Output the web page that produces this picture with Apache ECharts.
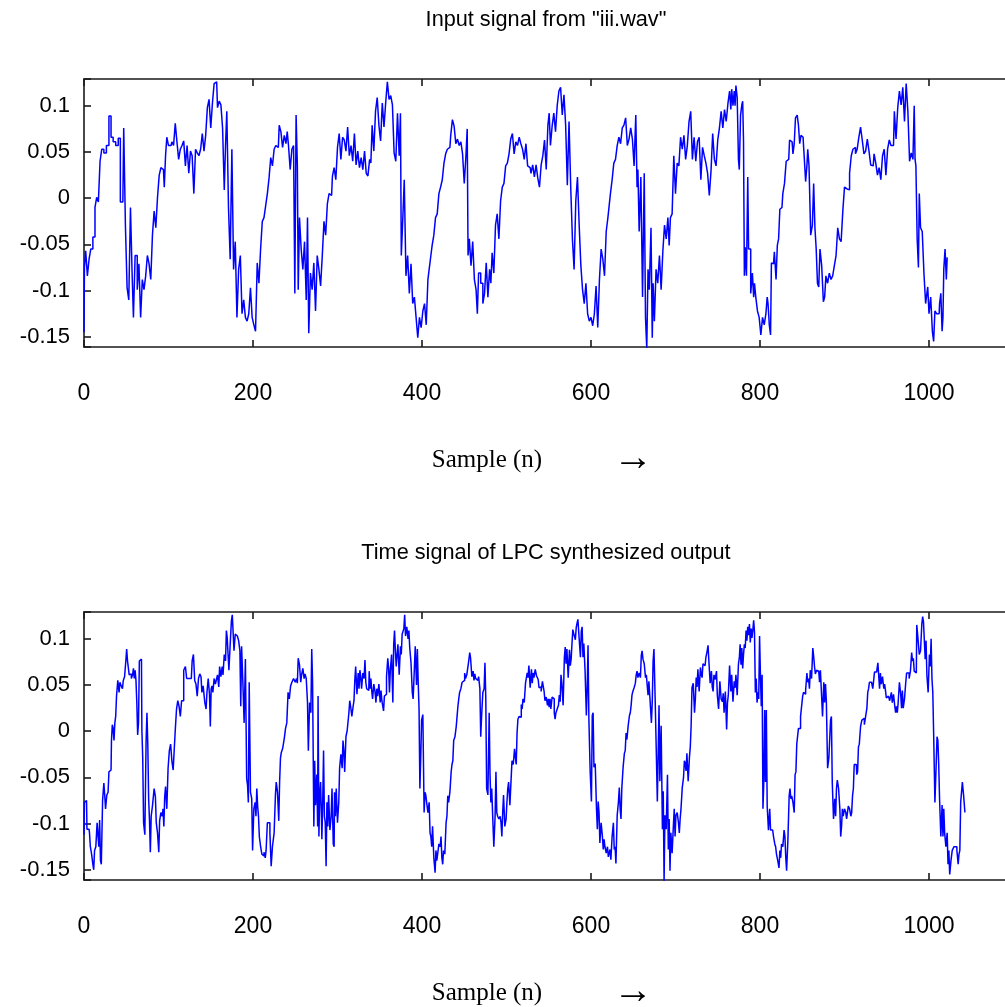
<!DOCTYPE html>
<html>
<head>
<meta charset="utf-8">
<title>LPC signals</title>
<script src="https://cdn.jsdelivr.net/npm/echarts@6/dist/echarts.min.js"></script>
<style>
html, body { margin: 0; padding: 0; background: #fff; }
#main { width: 1005px; height: 1007px; }
</style>
</head>
<body>
<div id="main"></div>
<script>
// input signal from iii.wav, [sample, amplitude]
var inputQ1 = [[0,-0.145],[1,-0.075],[3,-0.057],[5,-0.084],[7,-0.066],[9,-0.055],[12,-0.042],[14,-0.010],[16,0.001],[18,-0.004],[20,0.040],[22,0.053],[25,0.049],[28,0.057],[31,0.089],[33,0.066],[36,0.061],[39,0.057],[42,0.065],[44,-0.004],[46,-0.004],[48,0.076],[50,-0.029],[52,-0.097],[54,-0.110],[56,-0.010],[58,-0.084],[59,-0.129],[62,-0.062],[64,-0.099],[66,-0.071],[68,-0.129],[70,-0.088],[72,-0.099],[74,-0.084],[76,-0.062],[78,-0.071],[80,-0.088],[82,-0.040],[84,-0.014],[86,-0.032],[88,0.001],[90,0.025],[92,0.033],[94,0.031],[96,0.012],[97,0.046],[99,0.066],[101,0.057],[103,0.057],[105,0.061],[107,0.057],[109,0.081],[111,0.061],[113,0.042],[115,0.053],[117,0.057],[119,0.062],[121,0.035],[123,0.057],[125,0.027],[127,0.051],[129,0.046],[131,0.005],[133,0.053],[135,0.049],[137,0.046],[139,0.053],[141,0.070],[143,0.051],[145,0.068],[147,0.098],[149,0.107],[151,0.076],[153,0.103],[155,0.124],[157,0.126],[159,0.098],[161,0.105],[163,0.101],[165,0.076],[167,0.009],[168,0.057],[170,0.094],[172,-0.010],[174,-0.066],[176,0.053],[178,-0.077],[180,-0.047],[182,-0.129],[184,-0.077],[186,-0.062],[188,-0.125],[190,-0.110],[192,-0.129],[194,-0.133],[196,-0.125],[198,-0.097],[200,-0.129],[202,-0.137],[204,-0.144],[206,-0.070],[208,-0.092],[210,-0.055],[212,-0.025],[214,-0.021],[216,-0.008],[218,0.005],[220,0.022],[222,0.044],[224,0.035],[226,0.053],[228,0.057],[230,0.055],[232,0.079],[234,0.072],[236,0.055],[238,0.068],[240,0.059],[241,0.072],[243,0.057],[245,0.031],[247,0.053],[249,0.057],[250,-0.103]];
var inputQ2 = [[252,0.090],[253,0.035],[254,-0.099],[256,-0.021],[258,-0.055],[260,-0.077],[262,-0.047],[264,-0.110],[265,-0.021],[267,-0.146],[269,-0.081],[271,-0.099],[273,-0.070],[275,-0.122],[277,-0.062],[279,-0.077],[281,-0.095],[283,-0.062],[285,-0.025],[287,-0.040],[289,-0.006],[291,0.005],[293,0.003],[295,0.024],[297,0.033],[299,0.020],[301,0.055],[303,0.070],[305,0.042],[307,0.066],[309,0.063],[311,0.051],[313,0.077],[315,0.046],[317,0.057],[319,0.040],[321,0.070],[323,0.036],[325,0.051],[327,0.033],[329,0.044],[331,0.031],[333,0.051],[335,0.027],[337,0.024],[339,0.042],[340,0.038],[342,0.079],[344,0.051],[346,0.094],[348,0.109],[350,0.079],[352,0.062],[354,0.103],[356,0.077],[358,0.103],[360,0.126],[362,0.107],[364,0.111],[366,0.101],[368,0.049],[370,0.040],[372,0.092],[374,0.046],[375,0.092],[376,-0.062],[378,-0.029],[380,0.020],[382,-0.084],[384,-0.062],[386,-0.103],[388,-0.071],[390,-0.114],[392,-0.107],[394,-0.129],[396,-0.151],[398,-0.129],[400,-0.140],[402,-0.122],[404,-0.114],[406,-0.137],[408,-0.088],[410,-0.073],[411,-0.062],[413,-0.051],[415,-0.040],[417,-0.021],[419,-0.017],[421,0.005],[423,0.012],[425,0.020],[427,0.038],[429,0.048],[431,0.053],[433,0.055],[435,0.068],[437,0.085],[439,0.078],[441,0.059],[443,0.064],[445,0.057],[447,0.061],[449,0.048],[451,0.016],[453,0.046],[454,0.075],[455,-0.062],[457,-0.044],[459,-0.073],[461,-0.047],[463,-0.088],[465,-0.099],[466,-0.125],[468,-0.081],[471,-0.092],[473,-0.114],[475,-0.103],[477,-0.070],[479,-0.107],[481,-0.077],[482,-0.092],[484,-0.059],[486,-0.081],[488,-0.029],[490,-0.017],[492,-0.044],[494,-0.003],[496,0.012],[498,0.016],[500,0.035],[502,0.038],[504,0.048],[506,0.064],[508,0.070],[510,0.048]];
var inputQ3 = [[512,0.061],[514,0.057],[516,0.066],[518,0.059],[520,0.053],[522,0.042],[524,0.059],[526,0.035],[528,0.033],[530,0.027],[532,0.036],[534,0.023],[536,0.036],[538,0.022],[540,0.012],[542,0.036],[544,0.046],[546,0.063],[548,0.031],[550,0.079],[551,0.092],[553,0.057],[555,0.078],[557,0.092],[559,0.072],[561,0.100],[563,0.116],[565,0.120],[567,0.090],[569,0.112],[571,0.079],[573,0.014],[575,0.083],[577,0.012],[579,-0.044],[581,-0.077],[583,-0.003],[585,0.023],[587,-0.029],[589,-0.073],[591,-0.099],[593,-0.114],[595,-0.092],[597,-0.125],[599,-0.133],[601,-0.129],[603,-0.138],[605,-0.125],[607,-0.095],[609,-0.140],[611,-0.088],[613,-0.055],[615,-0.066],[617,-0.084],[619,-0.036],[621,-0.021],[622,-0.008],[624,0.005],[626,0.020],[628,0.038],[630,0.042],[632,0.057],[634,0.066],[636,0.059],[638,0.076],[640,0.079],[642,0.087],[644,0.057],[646,0.064],[648,0.076],[650,0.064],[652,0.035],[654,0.090],[655,0.012],[656,0.031],[658,-0.036],[660,0.023],[662,-0.107],[664,0.027],[665,-0.129],[667,-0.163],[668,-0.077],[670,-0.099],[672,-0.032],[673,-0.151],[674,-0.092],[676,-0.133],[678,-0.077],[680,-0.092],[682,-0.062],[684,-0.099],[686,-0.058],[688,-0.029],[690,-0.044],[692,-0.021],[693,-0.051],[695,-0.021],[697,-0.017],[699,0.046],[701,0.005],[703,0.038],[705,0.035],[707,0.066],[709,0.053],[711,0.068],[713,0.042],[715,0.057],[717,0.083],[719,0.094],[721,0.042],[723,0.066],[725,0.040],[727,0.061],[729,0.066],[731,0.020],[733,0.055],[735,0.046],[737,0.038],[739,0.027],[741,0.003],[743,0.029],[745,0.070],[747,0.042],[749,0.035],[751,0.063],[753,0.076],[755,0.094],[757,0.076],[759,0.096],[761,0.083],[763,0.102]];
var inputQ4 = [[765,0.116],[766,0.096],[767,0.118],[769,0.100],[770,0.116],[771,0.100],[772,0.122],[774,0.109],[775,0.042],[776,0.031],[778,0.090],[779,0.101],[780,0.105],[781,0.061],[782,-0.084],[783,-0.053],[785,-0.084],[786,0.023],[787,-0.055],[788,-0.055],[790,-0.103],[792,-0.081],[793,-0.107],[794,-0.092],[796,-0.107],[798,-0.122],[800,-0.129],[802,-0.148],[804,-0.129],[806,-0.137],[808,-0.125],[809,-0.107],[810,-0.114],[812,-0.137],[813,-0.148],[814,-0.070],[816,-0.071],[818,-0.058],[820,-0.088],[821,-0.051],[823,-0.044],[824,-0.012],[826,-0.010],[828,0.005],[830,0.016],[832,0.040],[834,0.042],[836,0.063],[838,0.061],[840,0.048],[841,0.059],[843,0.087],[845,0.090],[846,0.079],[848,0.059],[849,0.068],[851,0.066],[852,0.057],[853,0.042],[855,0.018],[856,0.035],[857,0.053],[859,0.035],[861,-0.040],[863,-0.029],[864,0.016],[866,-0.032],[867,-0.055],[869,-0.092],[870,-0.096],[872,-0.055],[874,-0.073],[876,-0.112],[877,-0.107],[879,-0.084],[881,-0.092],[883,-0.081],[885,-0.088],[887,-0.084],[889,-0.073],[891,-0.062],[893,-0.032],[895,-0.044],[897,-0.047],[899,-0.014],[901,0.012],[903,0.010],[905,0.009],[907,0.027],[909,0.046],[911,0.053],[912,0.055],[914,0.048],[916,0.053],[918,0.066],[920,0.077],[922,0.063],[924,0.048],[926,0.051],[928,0.064],[930,0.051],[932,0.036],[934,0.035],[936,0.048],[938,0.038],[940,0.025],[942,0.033],[944,0.020],[946,0.046],[948,0.053],[950,0.025],[952,0.053],[954,0.063],[956,0.057],[958,0.057],[960,0.094],[962,0.064],[964,0.098],[966,0.116],[968,0.101],[970,0.120],[972,0.083],[974,0.124],[976,0.094],[978,0.040],[980,0.049],[982,0.042],[983,0.100],[984,0.042],[985,0.035],[987,-0.044],[988,-0.075],[989,0.005],[991,-0.032],[993,-0.036],[995,-0.081],[997,-0.114],[998,-0.103],[999,-0.096],[1001,-0.125],[1003,-0.107],[1005,-0.144],[1006,-0.155],[1008,-0.122],[1010,-0.125],[1012,-0.125],[1013,-0.114],[1015,-0.103],[1016,-0.144],[1017,-0.129],[1018,-0.077],[1020,-0.055],[1021,-0.088],[1022,-0.064]];

// LPC synthesized output, [sample, amplitude]
var outputQ1 = [[0,-0.112],[1,-0.077],[3,-0.075],[4,-0.106],[6,-0.106],[7,-0.110],[8,-0.125],[10,-0.133],[11,-0.144],[12,-0.150],[13,-0.129],[15,-0.125],[16,-0.099],[17,-0.097],[18,-0.125],[19,-0.096],[20,-0.140],[21,-0.144],[23,-0.075],[24,-0.056],[25,-0.069],[26,-0.084],[28,-0.069],[29,-0.066],[30,-0.044],[32,-0.042],[33,-0.010],[34,0.007],[35,0.003],[36,-0.010],[37,0.009],[38,0.016],[39,0.038],[41,0.055],[42,0.042],[43,0.053],[45,0.049],[46,0.046],[47,0.055],[49,0.059],[50,0.076],[51,0.089],[52,0.076],[53,0.077],[54,0.061],[55,0.062],[57,0.057],[58,0.061],[59,0.068],[60,0.057],[61,0.066],[62,0.055],[63,0.031],[64,-0.004],[65,0.009],[66,0.076],[68,0.078],[69,0.001],[70,-0.029],[71,-0.099],[73,-0.112],[74,-0.010],[75,0.020],[76,-0.014],[77,-0.073],[78,-0.096],[79,-0.131],[80,-0.092],[82,-0.081],[84,-0.062],[85,-0.071],[86,-0.099],[88,-0.110],[89,-0.131],[90,-0.097],[92,-0.088],[93,-0.092],[94,-0.084],[95,-0.103],[96,-0.071],[97,-0.060],[99,-0.084],[100,-0.040],[102,-0.021],[103,-0.014],[105,-0.032],[106,-0.042],[107,-0.025],[109,0.001],[110,0.024],[112,0.033],[113,0.027],[115,0.016],[116,0.033],[117,0.033],[119,0.066],[121,0.070],[122,0.057],[123,0.057],[125,0.055],[127,0.057],[129,0.076],[130,0.083],[132,0.055],[133,0.051],[135,0.038],[136,0.057],[138,0.062],[139,0.059],[140,0.042],[142,0.049],[144,0.031],[145,0.024],[146,0.042],[148,0.057],[149,0.040],[150,0.005],[151,0.046],[152,0.049],[153,0.042],[155,0.057],[156,0.051],[157,0.055],[159,0.061],[160,0.048],[161,0.070],[163,0.059],[164,0.070],[165,0.061],[167,0.083],[168,0.076],[169,0.109],[170,0.101],[171,0.083],[172,0.066],[174,0.094],[175,0.120],[176,0.126],[177,0.124],[178,0.087],[180,0.105],[181,0.103],[182,0.101],[184,0.098],[185,0.087],[186,0.027],[187,0.092],[189,0.053],[190,0.009],[192,0.078],[193,-0.051],[194,-0.058],[195,-0.077],[196,0.053],[198,-0.066],[199,-0.073],[200,-0.129],[202,-0.084],[203,-0.077],[204,-0.092],[205,-0.062],[206,-0.081],[207,-0.092],[208,-0.114],[210,-0.125],[211,-0.133],[212,-0.135],[214,-0.131],[215,-0.137],[216,-0.129],[218,-0.099],[219,-0.099],[221,-0.110],[222,-0.146],[224,-0.125],[226,-0.110],[227,-0.070],[228,-0.055],[230,-0.066],[231,-0.097],[232,-0.055],[233,-0.029],[234,-0.023],[236,-0.019],[238,-0.008],[239,0.003],[241,0.009],[242,0.042],[244,0.035],[245,0.049],[247,0.053],[249,0.057],[251,0.053]];
var outputQ2 = [[252,0.057],[253,0.052],[254,0.079],[256,0.072],[257,0.053],[258,0.061],[260,0.068],[261,0.057],[262,0.062],[264,0.057],[265,0.031],[266,-0.021],[268,0.031],[269,0.020],[270,0.089],[271,0.053],[273,-0.103],[273,-0.032],[275,-0.080],[276,-0.047],[277,-0.103],[277,0.038],[279,-0.114],[279,-0.069],[281,-0.055],[281,-0.092],[282,-0.117],[283,-0.077],[284,-0.021],[285,-0.092],[286,-0.099],[287,-0.146],[288,-0.077],[289,-0.103],[290,-0.069],[292,-0.107],[293,-0.092],[294,-0.062],[296,-0.122],[296,-0.125],[297,-0.066],[298,-0.092],[299,-0.062],[301,-0.099],[302,-0.077],[303,-0.040],[305,-0.025],[306,-0.040],[307,-0.010],[308,-0.021],[309,-0.044],[311,-0.006],[312,0.001],[313,0.000],[314,0.020],[315,0.033],[316,0.027],[318,0.016],[319,0.027],[320,0.033],[321,0.055],[322,0.070],[324,0.040],[325,0.063],[326,0.046],[327,0.066],[328,0.059],[329,0.046],[331,0.063],[332,0.057],[333,0.077],[334,0.053],[335,0.046],[337,0.044],[338,0.065],[339,0.046],[340,0.057],[341,0.044],[342,0.035],[344,0.051],[345,0.042],[346,0.031],[347,0.046],[348,0.038],[350,0.051],[351,0.031],[352,0.044],[353,0.033],[354,0.031],[355,0.022],[356,0.038],[357,0.040],[359,0.059],[360,0.079],[361,0.068],[362,0.042],[363,0.066],[365,0.083],[366,0.031],[367,0.094],[368,0.109],[369,0.087],[370,0.070],[371,0.083],[372,0.094],[374,0.061],[375,0.092],[376,0.083],[377,0.105],[378,0.103],[379,0.111],[380,0.126],[381,0.103],[383,0.113],[384,0.100],[385,0.109],[386,0.090],[388,0.074],[389,0.042],[390,0.035],[391,0.057],[393,0.092],[394,0.050],[395,0.089],[396,0.053],[397,0.024],[398,-0.062],[399,-0.029],[400,0.012],[402,0.018],[403,-0.088],[404,-0.066],[405,-0.069],[406,-0.077],[408,-0.088],[409,-0.077],[410,-0.110],[411,-0.114],[412,-0.125],[413,-0.103],[415,-0.137],[416,-0.153],[417,-0.129],[418,-0.140],[419,-0.133],[421,-0.122],[422,-0.125],[423,-0.114],[424,-0.137],[425,-0.144],[426,-0.129],[428,-0.133],[429,-0.099],[430,-0.092],[431,-0.070],[432,-0.077],[434,-0.066],[435,-0.044],[436,-0.036],[437,-0.032],[438,-0.010],[440,-0.006],[441,0.005],[442,0.016],[443,0.027],[444,0.035],[445,0.042],[447,0.046],[448,0.053],[449,0.051],[450,0.055],[451,0.063],[452,0.057],[454,0.061],[456,0.074],[457,0.085],[458,0.079],[460,0.059],[461,0.065],[462,0.055],[463,0.062],[464,0.057],[466,0.055],[468,0.059],[469,0.046],[470,-0.006],[471,0.016],[473,0.042],[474,0.046],[475,0.074],[476,0.035],[477,-0.062],[479,-0.069],[480,0.020],[481,-0.047],[482,-0.077],[483,-0.062],[484,-0.088],[486,-0.125],[487,-0.092],[488,-0.044],[489,-0.088],[490,-0.092],[492,-0.095],[493,-0.092],[494,-0.099],[495,-0.114],[496,-0.088],[497,-0.069],[499,-0.103],[500,-0.095],[501,-0.077],[502,-0.062],[503,-0.055]];
var outputQ3 = [[505,-0.080],[506,-0.051],[507,-0.032],[509,-0.036],[510,-0.019],[511,-0.028],[512,-0.036],[513,-0.002],[514,0.013],[516,0.016],[517,0.015],[518,0.029],[519,0.024],[520,0.035],[522,0.031],[523,0.052],[524,0.054],[525,0.063],[526,0.058],[527,0.071],[529,0.047],[530,0.067],[531,0.052],[532,0.063],[533,0.058],[535,0.067],[536,0.060],[537,0.061],[538,0.056],[539,0.047],[540,0.048],[542,0.043],[543,0.054],[544,0.052],[545,0.043],[546,0.033],[548,0.037],[549,0.028],[550,0.035],[551,0.026],[552,0.035],[553,0.024],[555,0.037],[556,0.035],[557,0.020],[558,0.013],[559,0.020],[561,0.024],[562,0.028],[563,0.039],[564,0.032],[565,0.061],[566,0.052],[568,0.028],[569,0.080],[570,0.091],[571,0.073],[572,0.089],[574,0.058],[575,0.088],[576,0.071],[577,0.078],[578,0.095],[579,0.110],[581,0.104],[582,0.099],[583,0.112],[584,0.117],[585,0.121],[587,0.100],[588,0.080],[589,0.108],[590,0.113],[591,0.080],[592,0.095],[594,0.065],[595,0.017],[596,0.047],[597,0.093],[598,0.013],[600,-0.043],[601,-0.076],[602,0.017],[603,0.020],[604,-0.039],[606,-0.035],[607,-0.084],[608,-0.106],[609,-0.076],[610,-0.088],[611,-0.121],[613,-0.099],[614,-0.114],[615,-0.128],[616,-0.117],[617,-0.125],[619,-0.132],[620,-0.125],[621,-0.136],[622,-0.132],[623,-0.128],[624,-0.139],[626,-0.114],[627,-0.099],[628,-0.128],[629,-0.125],[630,-0.143],[632,-0.091],[633,-0.076],[634,-0.061],[635,-0.084],[636,-0.095],[637,-0.061],[639,-0.039],[640,-0.024],[641,-0.021],[642,-0.002],[643,-0.009],[645,0.006],[646,0.017],[647,0.020],[648,0.028],[649,0.039],[650,0.043],[652,0.047],[653,0.052],[654,0.061],[655,0.065],[656,0.058],[658,0.063],[659,0.058],[660,0.082],[661,0.087],[662,0.078],[664,0.073],[665,0.058],[666,0.061],[667,0.063],[668,0.039],[669,0.054],[671,0.032],[672,0.009],[673,0.032],[674,0.076],[675,0.089],[677,0.032],[678,-0.032],[679,-0.076],[680,-0.024],[681,0.028],[682,-0.054],[684,0.006],[685,-0.106],[686,-0.065],[687,-0.163],[688,-0.091],[690,-0.106],[691,-0.047],[692,-0.128],[693,-0.095],[694,-0.151],[695,-0.110],[697,-0.132],[698,-0.102],[699,-0.084],[700,-0.114],[701,-0.091],[703,-0.088],[704,-0.099],[705,-0.110],[706,-0.095],[707,-0.084],[709,-0.061],[710,-0.050],[711,-0.032],[712,-0.035],[713,-0.043],[714,-0.024],[716,-0.054],[717,-0.028],[718,-0.017],[719,0.006],[720,0.047],[722,0.052],[723,0.020],[724,0.035],[725,0.058],[726,0.048],[727,0.067],[729,0.043],[730,0.069],[731,0.061],[732,0.058],[733,0.073],[735,0.071],[737,0.080],[738,0.087],[739,0.093],[740,0.076],[742,0.052],[743,0.065],[744,0.048],[745,0.043],[746,0.061],[748,0.056],[749,0.065],[750,0.039],[752,0.024],[753,0.054],[755,0.035],[756,0.032],[757,0.041],[758,0.020]];
var outputQ4 = [[760,0.043],[761,0.002],[762,0.031],[763,0.039],[765,0.071],[766,0.043],[767,0.061],[769,0.032],[770,0.054],[771,0.047],[772,0.061],[774,0.039],[775,0.073],[776,0.079],[777,0.094],[778,0.072],[779,0.090],[780,0.068],[781,0.083],[782,0.094],[783,0.090],[784,0.109],[785,0.098],[786,0.113],[787,0.104],[788,0.116],[789,0.096],[790,0.111],[791,0.101],[792,0.109],[793,0.120],[794,0.107],[795,0.042],[796,0.057],[797,0.031],[798,0.042],[799,0.035],[800,0.103],[801,0.061],[802,0.027],[803,0.061],[804,-0.084],[805,-0.055],[806,0.023],[807,-0.055],[808,0.023],[809,-0.081],[811,-0.107],[812,-0.084],[813,-0.107],[815,-0.107],[817,-0.114],[818,-0.122],[819,-0.125],[820,-0.133],[822,-0.140],[823,-0.148],[824,-0.129],[825,-0.137],[826,-0.122],[828,-0.125],[829,-0.107],[830,-0.114],[831,-0.137],[832,-0.151],[834,-0.118],[835,-0.070],[836,-0.062],[837,-0.073],[838,-0.070],[840,-0.077],[841,-0.088],[842,-0.047],[843,-0.044],[844,-0.014],[845,-0.014],[846,0.003],[847,0.003],[849,0.016],[850,0.016],[851,0.038],[852,0.042],[853,0.040],[855,0.044],[856,0.063],[857,0.053],[858,0.057],[859,0.046],[860,0.066],[862,0.057],[863,0.090],[864,0.081],[865,0.070],[866,0.062],[868,0.066],[869,0.066],[870,0.065],[871,0.053],[872,0.066],[873,0.046],[875,0.016],[876,0.053],[877,0.031],[878,0.051],[879,0.033],[881,-0.040],[882,-0.029],[883,-0.029],[884,0.012],[885,0.016],[886,-0.055],[888,-0.095],[889,-0.073],[890,-0.092],[891,-0.062],[892,-0.053],[894,-0.062],[895,-0.084],[896,-0.114],[897,-0.103],[898,-0.084],[899,-0.092],[901,-0.084],[902,-0.088],[903,-0.095],[904,-0.088],[905,-0.081],[907,-0.084],[908,-0.092],[909,-0.088],[910,-0.070],[911,-0.062],[912,-0.036],[914,-0.036],[915,-0.047],[916,-0.044],[917,-0.017],[918,-0.014],[920,0.005],[921,0.012],[922,0.012],[923,0.014],[924,0.007],[926,0.016],[927,0.025],[928,0.042],[929,0.046],[930,0.053],[931,0.053],[933,0.051],[934,0.046],[935,0.055],[936,0.064],[937,0.064],[939,0.066],[940,0.074],[941,0.076],[942,0.046],[943,0.063],[944,0.051],[946,0.059],[947,0.046],[948,0.051],[949,0.044],[950,0.036],[951,0.038],[953,0.036],[954,0.033],[955,0.038],[956,0.042],[957,0.031],[959,0.040],[960,0.027],[961,0.020],[962,0.027],[963,0.020],[964,0.031],[966,0.053],[967,0.040],[968,0.025],[969,0.044],[970,0.025],[972,0.035],[973,0.053],[974,0.063],[975,0.061],[976,0.063],[977,0.057],[979,0.065],[980,0.085],[981,0.076],[982,0.079],[983,0.065],[985,0.063],[986,0.115],[987,0.105],[988,0.094],[989,0.083],[991,0.087],[992,0.116],[993,0.124],[994,0.118],[995,0.116],[996,0.078],[997,0.098],[998,0.061],[1000,0.042],[1001,0.083],[1002,0.070],[1003,0.100],[1004,0.057],[1005,0.042],[1006,-0.003],[1008,-0.077],[1009,-0.036],[1010,-0.006],[1011,-0.010],[1012,-0.036],[1013,-0.073],[1015,-0.114],[1016,-0.080],[1017,-0.114],[1018,-0.084],[1019,-0.110],[1021,-0.125],[1022,-0.110],[1023,-0.144],[1024,-0.129],[1025,-0.155],[1027,-0.140],[1028,-0.129],[1029,-0.129],[1030,-0.125],[1031,-0.125],[1032,-0.125],[1034,-0.129],[1035,-0.144],[1036,-0.133],[1037,-0.129],[1038,-0.077],[1039,-0.077],[1040,-0.055],[1042,-0.070],[1043,-0.088]];

var xTicks = [0, 200, 400, 600, 800, 1000];
var yTicks = [-0.15, -0.1, -0.05, 0, 0.05, 0.1];
var panelTitles = ['Input signal from "iii.wav"', 'Time signal of LPC synthesized output'];
var xName = 'Sample (n)';

var inputSignal = inputQ1.concat(inputQ2, inputQ3, inputQ4);
var lpcOutput = outputQ1.concat(outputQ2, outputQ3, outputQ4);

var myChart = echarts.init(document.getElementById('main'));

var sansFont = '"Liberation Sans", Arial, sans-serif';
var serifFont = '"Liberation Serif", "Times New Roman", serif';
var boxColor = '#1a1a1a';
var gridTops = [79, 612];

function xLabel(v) {
    return xTicks.indexOf(v) >= 0 ? String(v) : '';
}
function yLabel(v) {
    for (var i = 0; i < yTicks.length; i++) {
        if (Math.abs(yTicks[i] - v) < 1e-9) return String(yTicks[i]);
    }
    return '';
}

function xAxisFor(gridIndex, pos) {
    return {
        type: 'value',
        gridIndex: gridIndex,
        position: pos,
        min: 0,
        max: 1200,
        interval: 200,
        axisLine: {show: true, onZero: false, lineStyle: {color: boxColor, width: 1.6}},
        axisTick: {show: true, inside: true, length: 7, lineStyle: {color: boxColor, width: 1.6}},
        axisLabel: {
            show: pos === 'bottom',
            margin: 35,
            color: '#000',
            fontSize: 23,
            fontFamily: sansFont,
            formatter: xLabel
        },
        splitLine: {show: false}
    };
}

function yAxisFor(gridIndex) {
    return {
        type: 'value',
        gridIndex: gridIndex,
        min: -0.161,
        max: 0.129,
        splitNumber: 5,
        axisLine: {show: true, onZero: false, lineStyle: {color: boxColor, width: 1.6}},
        axisTick: {show: true, inside: true, length: 7, lineStyle: {color: boxColor, width: 1.6}},
        axisLabel: {
            margin: 14,
            color: '#000',
            fontSize: 22,
            fontFamily: sansFont,
            formatter: yLabel
        },
        splitLine: {show: false}
    };
}

function textEl(str, x, y, font, size) {
    return {
        type: 'text',
        x: x,
        y: y,
        style: {
            text: str,
            fill: '#000',
            font: size + 'px ' + font,
            textAlign: 'center',
            textVerticalAlign: 'middle'
        }
    };
}

var option = {
    animation: false,
    backgroundColor: '#fff',
    grid: gridTops.map(function (t) {
        return {left: 84, top: t, width: 1014, height: 268, outerBoundsMode: 'none', containLabel: false};
    }),
    xAxis: [xAxisFor(0, 'bottom'), xAxisFor(0, 'top'), xAxisFor(1, 'bottom'), xAxisFor(1, 'top')],
    yAxis: [yAxisFor(0), yAxisFor(1)],
    graphic: [
        textEl(panelTitles[0], 546, 20, sansFont, 21.7),
        textEl(panelTitles[1], 546, 553, sansFont, 21.7),
        textEl(xName, 487, 460, serifFont, 25),
        textEl('\u2192', 633, 459, serifFont, 40),
        textEl(xName, 487, 993, serifFont, 25),
        textEl('\u2192', 633, 992, serifFont, 40)
    ],
    series: [
        {
            name: 'input',
            type: 'line',
            step: 'middle',
            xAxisIndex: 0,
            yAxisIndex: 0,
            data: inputSignal,
            showSymbol: false,
            symbol: 'none',
            clip: true,
            lineStyle: {color: '#0000ff', width: 1.5}
        },
        {
            name: 'lpc',
            type: 'line',
            step: 'middle',
            xAxisIndex: 2,
            yAxisIndex: 1,
            data: lpcOutput,
            showSymbol: false,
            symbol: 'none',
            clip: true,
            lineStyle: {color: '#0000ff', width: 1.5}
        }
    ]
};

myChart.setOption(option);
</script>
</body>
</html>
